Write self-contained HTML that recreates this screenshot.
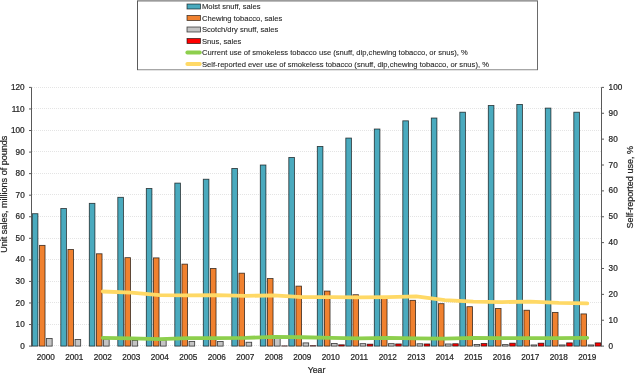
<!DOCTYPE html><html><head><meta charset="utf-8"><style>html,body{margin:0;padding:0;background:#fff;width:635px;height:374px;overflow:hidden}svg{display:block;will-change:transform}text{font-family:"Liberation Sans",sans-serif;fill:#262626;stroke:#262626;stroke-width:0.22px}</style></head><body>
<svg width="635" height="374" viewBox="0 0 635 374">
<line x1="32.00" y1="87.50" x2="601.50" y2="87.50" stroke="#E4E4E4" stroke-width="1" stroke-dasharray="1 1"/>
<line x1="32.00" y1="108.50" x2="601.50" y2="108.50" stroke="#E4E4E4" stroke-width="1" stroke-dasharray="1 1"/>
<line x1="32.00" y1="130.50" x2="601.50" y2="130.50" stroke="#E4E4E4" stroke-width="1" stroke-dasharray="1 1"/>
<line x1="32.00" y1="151.50" x2="601.50" y2="151.50" stroke="#E4E4E4" stroke-width="1" stroke-dasharray="1 1"/>
<line x1="32.00" y1="173.50" x2="601.50" y2="173.50" stroke="#E4E4E4" stroke-width="1" stroke-dasharray="1 1"/>
<line x1="32.00" y1="194.50" x2="601.50" y2="194.50" stroke="#E4E4E4" stroke-width="1" stroke-dasharray="1 1"/>
<line x1="32.00" y1="216.50" x2="601.50" y2="216.50" stroke="#E4E4E4" stroke-width="1" stroke-dasharray="1 1"/>
<line x1="32.00" y1="238.50" x2="601.50" y2="238.50" stroke="#E4E4E4" stroke-width="1" stroke-dasharray="1 1"/>
<line x1="32.00" y1="259.50" x2="601.50" y2="259.50" stroke="#E4E4E4" stroke-width="1" stroke-dasharray="1 1"/>
<line x1="32.00" y1="281.50" x2="601.50" y2="281.50" stroke="#E4E4E4" stroke-width="1" stroke-dasharray="1 1"/>
<line x1="32.00" y1="302.50" x2="601.50" y2="302.50" stroke="#E4E4E4" stroke-width="1" stroke-dasharray="1 1"/>
<line x1="32.00" y1="324.50" x2="601.50" y2="324.50" stroke="#E4E4E4" stroke-width="1" stroke-dasharray="1 1"/>
<line x1="32.00" y1="345.50" x2="601.50" y2="345.50" stroke="#E4E4E4" stroke-width="1" stroke-dasharray="1 1"/>
<rect x="32.30" y="213.70" width="5.62" height="132.40" fill="#4AAABE" stroke="rgba(0,0,0,0.72)" stroke-width="0.85"/>
<rect x="39.42" y="245.38" width="5.62" height="100.72" fill="#F0812F" stroke="rgba(0,0,0,0.72)" stroke-width="0.85"/>
<rect x="46.55" y="338.47" width="5.62" height="7.63" fill="#C4C4C4" stroke="rgba(0,0,0,0.72)" stroke-width="0.85"/>
<rect x="60.80" y="208.53" width="5.62" height="137.57" fill="#4AAABE" stroke="rgba(0,0,0,0.72)" stroke-width="0.85"/>
<rect x="67.92" y="249.47" width="5.62" height="96.63" fill="#F0812F" stroke="rgba(0,0,0,0.72)" stroke-width="0.85"/>
<rect x="75.05" y="339.44" width="5.62" height="6.66" fill="#C4C4C4" stroke="rgba(0,0,0,0.72)" stroke-width="0.85"/>
<rect x="89.30" y="203.35" width="5.62" height="142.75" fill="#4AAABE" stroke="rgba(0,0,0,0.72)" stroke-width="0.85"/>
<rect x="96.42" y="253.78" width="5.62" height="92.32" fill="#F0812F" stroke="rgba(0,0,0,0.72)" stroke-width="0.85"/>
<rect x="103.55" y="339.12" width="5.62" height="6.98" fill="#C4C4C4" stroke="rgba(0,0,0,0.72)" stroke-width="0.85"/>
<rect x="117.80" y="197.32" width="5.62" height="148.78" fill="#4AAABE" stroke="rgba(0,0,0,0.72)" stroke-width="0.85"/>
<rect x="124.92" y="257.66" width="5.62" height="88.44" fill="#F0812F" stroke="rgba(0,0,0,0.72)" stroke-width="0.85"/>
<rect x="132.05" y="340.41" width="5.62" height="5.69" fill="#C4C4C4" stroke="rgba(0,0,0,0.72)" stroke-width="0.85"/>
<rect x="146.30" y="188.48" width="5.62" height="157.62" fill="#4AAABE" stroke="rgba(0,0,0,0.72)" stroke-width="0.85"/>
<rect x="153.43" y="257.88" width="5.62" height="88.22" fill="#F0812F" stroke="rgba(0,0,0,0.72)" stroke-width="0.85"/>
<rect x="160.55" y="339.98" width="5.62" height="6.12" fill="#C4C4C4" stroke="rgba(0,0,0,0.72)" stroke-width="0.85"/>
<rect x="174.80" y="183.10" width="5.62" height="163.00" fill="#4AAABE" stroke="rgba(0,0,0,0.72)" stroke-width="0.85"/>
<rect x="181.93" y="264.13" width="5.62" height="81.97" fill="#F0812F" stroke="rgba(0,0,0,0.72)" stroke-width="0.85"/>
<rect x="189.05" y="341.38" width="5.62" height="4.72" fill="#C4C4C4" stroke="rgba(0,0,0,0.72)" stroke-width="0.85"/>
<rect x="203.30" y="179.22" width="5.62" height="166.88" fill="#4AAABE" stroke="rgba(0,0,0,0.72)" stroke-width="0.85"/>
<rect x="210.43" y="268.44" width="5.62" height="77.66" fill="#F0812F" stroke="rgba(0,0,0,0.72)" stroke-width="0.85"/>
<rect x="217.55" y="341.49" width="5.62" height="4.61" fill="#C4C4C4" stroke="rgba(0,0,0,0.72)" stroke-width="0.85"/>
<rect x="231.80" y="168.44" width="5.62" height="177.66" fill="#4AAABE" stroke="rgba(0,0,0,0.72)" stroke-width="0.85"/>
<rect x="238.93" y="273.18" width="5.62" height="72.92" fill="#F0812F" stroke="rgba(0,0,0,0.72)" stroke-width="0.85"/>
<rect x="246.05" y="342.24" width="5.62" height="3.86" fill="#C4C4C4" stroke="rgba(0,0,0,0.72)" stroke-width="0.85"/>
<rect x="260.30" y="165.00" width="5.62" height="181.10" fill="#4AAABE" stroke="rgba(0,0,0,0.72)" stroke-width="0.85"/>
<rect x="267.43" y="278.56" width="5.62" height="67.54" fill="#F0812F" stroke="rgba(0,0,0,0.72)" stroke-width="0.85"/>
<rect x="274.55" y="338.04" width="5.62" height="8.06" fill="#C4C4C4" stroke="rgba(0,0,0,0.72)" stroke-width="0.85"/>
<rect x="281.68" y="345.88" width="5.62" height="0.22" fill="#FF0000" stroke="rgba(0,0,0,0.72)" stroke-width="0.85"/>
<rect x="288.80" y="157.45" width="5.62" height="188.65" fill="#4AAABE" stroke="rgba(0,0,0,0.72)" stroke-width="0.85"/>
<rect x="295.93" y="286.11" width="5.62" height="59.99" fill="#F0812F" stroke="rgba(0,0,0,0.72)" stroke-width="0.85"/>
<rect x="303.05" y="342.89" width="5.62" height="3.21" fill="#C4C4C4" stroke="rgba(0,0,0,0.72)" stroke-width="0.85"/>
<rect x="310.18" y="345.67" width="5.62" height="0.43" fill="#FF0000" stroke="rgba(0,0,0,0.72)" stroke-width="0.85"/>
<rect x="317.30" y="146.46" width="5.62" height="199.64" fill="#4AAABE" stroke="rgba(0,0,0,0.72)" stroke-width="0.85"/>
<rect x="324.43" y="291.06" width="5.62" height="55.04" fill="#F0812F" stroke="rgba(0,0,0,0.72)" stroke-width="0.85"/>
<rect x="331.55" y="343.43" width="5.62" height="2.67" fill="#C4C4C4" stroke="rgba(0,0,0,0.72)" stroke-width="0.85"/>
<rect x="338.68" y="344.81" width="5.62" height="1.29" fill="#FF0000" stroke="rgba(0,0,0,0.72)" stroke-width="0.85"/>
<rect x="345.80" y="138.06" width="5.62" height="208.04" fill="#4AAABE" stroke="rgba(0,0,0,0.72)" stroke-width="0.85"/>
<rect x="352.93" y="294.73" width="5.62" height="51.37" fill="#F0812F" stroke="rgba(0,0,0,0.72)" stroke-width="0.85"/>
<rect x="360.05" y="343.65" width="5.62" height="2.45" fill="#C4C4C4" stroke="rgba(0,0,0,0.72)" stroke-width="0.85"/>
<rect x="367.18" y="344.16" width="5.62" height="1.94" fill="#FF0000" stroke="rgba(0,0,0,0.72)" stroke-width="0.85"/>
<rect x="374.30" y="129.01" width="5.62" height="217.09" fill="#4AAABE" stroke="rgba(0,0,0,0.72)" stroke-width="0.85"/>
<rect x="381.43" y="297.74" width="5.62" height="48.36" fill="#F0812F" stroke="rgba(0,0,0,0.72)" stroke-width="0.85"/>
<rect x="388.55" y="343.65" width="5.62" height="2.45" fill="#C4C4C4" stroke="rgba(0,0,0,0.72)" stroke-width="0.85"/>
<rect x="395.68" y="343.94" width="5.62" height="2.16" fill="#FF0000" stroke="rgba(0,0,0,0.72)" stroke-width="0.85"/>
<rect x="402.80" y="120.82" width="5.62" height="225.28" fill="#4AAABE" stroke="rgba(0,0,0,0.72)" stroke-width="0.85"/>
<rect x="409.93" y="300.33" width="5.62" height="45.77" fill="#F0812F" stroke="rgba(0,0,0,0.72)" stroke-width="0.85"/>
<rect x="417.05" y="343.75" width="5.62" height="2.35" fill="#C4C4C4" stroke="rgba(0,0,0,0.72)" stroke-width="0.85"/>
<rect x="424.18" y="343.94" width="5.62" height="2.16" fill="#FF0000" stroke="rgba(0,0,0,0.72)" stroke-width="0.85"/>
<rect x="431.30" y="118.02" width="5.62" height="228.08" fill="#4AAABE" stroke="rgba(0,0,0,0.72)" stroke-width="0.85"/>
<rect x="438.43" y="303.67" width="5.62" height="42.43" fill="#F0812F" stroke="rgba(0,0,0,0.72)" stroke-width="0.85"/>
<rect x="445.55" y="343.97" width="5.62" height="2.13" fill="#C4C4C4" stroke="rgba(0,0,0,0.72)" stroke-width="0.85"/>
<rect x="452.68" y="343.73" width="5.62" height="2.37" fill="#FF0000" stroke="rgba(0,0,0,0.72)" stroke-width="0.85"/>
<rect x="459.80" y="112.20" width="5.62" height="233.90" fill="#4AAABE" stroke="rgba(0,0,0,0.72)" stroke-width="0.85"/>
<rect x="466.93" y="306.69" width="5.62" height="39.41" fill="#F0812F" stroke="rgba(0,0,0,0.72)" stroke-width="0.85"/>
<rect x="474.05" y="344.51" width="5.62" height="1.59" fill="#C4C4C4" stroke="rgba(0,0,0,0.72)" stroke-width="0.85"/>
<rect x="481.18" y="343.51" width="5.62" height="2.59" fill="#FF0000" stroke="rgba(0,0,0,0.72)" stroke-width="0.85"/>
<rect x="488.30" y="105.52" width="5.62" height="240.58" fill="#4AAABE" stroke="rgba(0,0,0,0.72)" stroke-width="0.85"/>
<rect x="495.43" y="308.52" width="5.62" height="37.58" fill="#F0812F" stroke="rgba(0,0,0,0.72)" stroke-width="0.85"/>
<rect x="502.55" y="344.61" width="5.62" height="1.49" fill="#C4C4C4" stroke="rgba(0,0,0,0.72)" stroke-width="0.85"/>
<rect x="509.68" y="343.19" width="5.62" height="2.91" fill="#FF0000" stroke="rgba(0,0,0,0.72)" stroke-width="0.85"/>
<rect x="516.80" y="104.44" width="5.62" height="241.66" fill="#4AAABE" stroke="rgba(0,0,0,0.72)" stroke-width="0.85"/>
<rect x="523.92" y="310.24" width="5.62" height="35.86" fill="#F0812F" stroke="rgba(0,0,0,0.72)" stroke-width="0.85"/>
<rect x="531.05" y="344.94" width="5.62" height="1.16" fill="#C4C4C4" stroke="rgba(0,0,0,0.72)" stroke-width="0.85"/>
<rect x="538.17" y="343.19" width="5.62" height="2.91" fill="#FF0000" stroke="rgba(0,0,0,0.72)" stroke-width="0.85"/>
<rect x="545.30" y="108.10" width="5.62" height="238.00" fill="#4AAABE" stroke="rgba(0,0,0,0.72)" stroke-width="0.85"/>
<rect x="552.42" y="312.40" width="5.62" height="33.70" fill="#F0812F" stroke="rgba(0,0,0,0.72)" stroke-width="0.85"/>
<rect x="559.55" y="344.94" width="5.62" height="1.16" fill="#C4C4C4" stroke="rgba(0,0,0,0.72)" stroke-width="0.85"/>
<rect x="566.67" y="342.87" width="5.62" height="3.23" fill="#FF0000" stroke="rgba(0,0,0,0.72)" stroke-width="0.85"/>
<rect x="573.80" y="112.20" width="5.62" height="233.90" fill="#4AAABE" stroke="rgba(0,0,0,0.72)" stroke-width="0.85"/>
<rect x="580.92" y="313.91" width="5.62" height="32.19" fill="#F0812F" stroke="rgba(0,0,0,0.72)" stroke-width="0.85"/>
<rect x="588.05" y="344.94" width="5.62" height="1.16" fill="#C4C4C4" stroke="rgba(0,0,0,0.72)" stroke-width="0.85"/>
<rect x="595.17" y="342.87" width="5.62" height="3.23" fill="#FF0000" stroke="rgba(0,0,0,0.72)" stroke-width="0.85"/>
<polyline points="102.75,337.78 131.25,338.30 159.75,339.08 188.25,338.17 216.75,338.04 245.25,337.91 273.75,336.88 302.25,337.27 330.75,337.78 359.25,338.30 387.75,337.78 416.25,338.30 444.75,338.56 473.25,337.78 501.75,338.04 530.25,338.04 558.75,338.04 587.25,337.78" fill="none" stroke="#8DCF4D" stroke-width="3.8" stroke-linejoin="round" stroke-linecap="round"/>
<polyline points="102.75,291.49 131.25,292.53 159.75,295.11 188.25,295.37 216.75,295.11 245.25,295.89 273.75,295.37 302.25,297.18 330.75,297.18 359.25,297.44 387.75,297.18 416.25,296.41 444.75,300.03 473.25,301.58 501.75,302.10 530.25,301.58 558.75,302.87 587.25,303.39" fill="none" stroke="#FFD966" stroke-width="3.8" stroke-linejoin="round" stroke-linecap="round"/>
<line x1="31.50" y1="87.40" x2="31.50" y2="346.60" stroke="#595959" stroke-width="1"/>
<line x1="601.50" y1="87.40" x2="601.50" y2="346.60" stroke="#595959" stroke-width="1"/>
<line x1="29.00" y1="87.40" x2="31.50" y2="87.40" stroke="#595959" stroke-width="1"/>
<text x="24.70" y="90.00" font-size="8.2" text-anchor="end">120</text>
<line x1="29.00" y1="108.96" x2="31.50" y2="108.96" stroke="#595959" stroke-width="1"/>
<text x="24.70" y="111.56" font-size="8.2" text-anchor="end">110</text>
<line x1="29.00" y1="130.52" x2="31.50" y2="130.52" stroke="#595959" stroke-width="1"/>
<text x="24.70" y="133.12" font-size="8.2" text-anchor="end">100</text>
<line x1="29.00" y1="152.08" x2="31.50" y2="152.08" stroke="#595959" stroke-width="1"/>
<text x="24.70" y="154.68" font-size="8.2" text-anchor="end">90</text>
<line x1="29.00" y1="173.63" x2="31.50" y2="173.63" stroke="#595959" stroke-width="1"/>
<text x="24.70" y="176.23" font-size="8.2" text-anchor="end">80</text>
<line x1="29.00" y1="195.19" x2="31.50" y2="195.19" stroke="#595959" stroke-width="1"/>
<text x="24.70" y="197.79" font-size="8.2" text-anchor="end">70</text>
<line x1="29.00" y1="216.75" x2="31.50" y2="216.75" stroke="#595959" stroke-width="1"/>
<text x="24.70" y="219.35" font-size="8.2" text-anchor="end">60</text>
<line x1="29.00" y1="238.31" x2="31.50" y2="238.31" stroke="#595959" stroke-width="1"/>
<text x="24.70" y="240.91" font-size="8.2" text-anchor="end">50</text>
<line x1="29.00" y1="259.87" x2="31.50" y2="259.87" stroke="#595959" stroke-width="1"/>
<text x="24.70" y="262.47" font-size="8.2" text-anchor="end">40</text>
<line x1="29.00" y1="281.43" x2="31.50" y2="281.43" stroke="#595959" stroke-width="1"/>
<text x="24.70" y="284.03" font-size="8.2" text-anchor="end">30</text>
<line x1="29.00" y1="302.98" x2="31.50" y2="302.98" stroke="#595959" stroke-width="1"/>
<text x="24.70" y="305.58" font-size="8.2" text-anchor="end">20</text>
<line x1="29.00" y1="324.54" x2="31.50" y2="324.54" stroke="#595959" stroke-width="1"/>
<text x="24.70" y="327.14" font-size="8.2" text-anchor="end">10</text>
<line x1="29.00" y1="346.10" x2="31.50" y2="346.10" stroke="#595959" stroke-width="1"/>
<text x="24.70" y="348.70" font-size="8.2" text-anchor="end">0</text>
<line x1="601.50" y1="87.40" x2="604.00" y2="87.40" stroke="#595959" stroke-width="1"/>
<text x="608.60" y="90.00" font-size="8.2" text-anchor="start">100</text>
<line x1="601.50" y1="113.27" x2="604.00" y2="113.27" stroke="#595959" stroke-width="1"/>
<text x="608.60" y="115.87" font-size="8.2" text-anchor="start">90</text>
<line x1="601.50" y1="139.14" x2="604.00" y2="139.14" stroke="#595959" stroke-width="1"/>
<text x="608.60" y="141.74" font-size="8.2" text-anchor="start">80</text>
<line x1="601.50" y1="165.01" x2="604.00" y2="165.01" stroke="#595959" stroke-width="1"/>
<text x="608.60" y="167.61" font-size="8.2" text-anchor="start">70</text>
<line x1="601.50" y1="190.88" x2="604.00" y2="190.88" stroke="#595959" stroke-width="1"/>
<text x="608.60" y="193.48" font-size="8.2" text-anchor="start">60</text>
<line x1="601.50" y1="216.75" x2="604.00" y2="216.75" stroke="#595959" stroke-width="1"/>
<text x="608.60" y="219.35" font-size="8.2" text-anchor="start">50</text>
<line x1="601.50" y1="242.62" x2="604.00" y2="242.62" stroke="#595959" stroke-width="1"/>
<text x="608.60" y="245.22" font-size="8.2" text-anchor="start">40</text>
<line x1="601.50" y1="268.49" x2="604.00" y2="268.49" stroke="#595959" stroke-width="1"/>
<text x="608.60" y="271.09" font-size="8.2" text-anchor="start">30</text>
<line x1="601.50" y1="294.36" x2="604.00" y2="294.36" stroke="#595959" stroke-width="1"/>
<text x="608.60" y="296.96" font-size="8.2" text-anchor="start">20</text>
<line x1="601.50" y1="320.23" x2="604.00" y2="320.23" stroke="#595959" stroke-width="1"/>
<text x="608.60" y="322.83" font-size="8.2" text-anchor="start">10</text>
<line x1="601.50" y1="346.10" x2="604.00" y2="346.10" stroke="#595959" stroke-width="1"/>
<text x="608.60" y="348.70" font-size="8.2" text-anchor="start">0</text>
<text x="45.75" y="360.30" font-size="8.2" text-anchor="middle">2000</text>
<text x="74.25" y="360.30" font-size="8.2" text-anchor="middle">2001</text>
<text x="102.75" y="360.30" font-size="8.2" text-anchor="middle">2002</text>
<text x="131.25" y="360.30" font-size="8.2" text-anchor="middle">2003</text>
<text x="159.75" y="360.30" font-size="8.2" text-anchor="middle">2004</text>
<text x="188.25" y="360.30" font-size="8.2" text-anchor="middle">2005</text>
<text x="216.75" y="360.30" font-size="8.2" text-anchor="middle">2006</text>
<text x="245.25" y="360.30" font-size="8.2" text-anchor="middle">2007</text>
<text x="273.75" y="360.30" font-size="8.2" text-anchor="middle">2008</text>
<text x="302.25" y="360.30" font-size="8.2" text-anchor="middle">2009</text>
<text x="330.75" y="360.30" font-size="8.2" text-anchor="middle">2010</text>
<text x="359.25" y="360.30" font-size="8.2" text-anchor="middle">2011</text>
<text x="387.75" y="360.30" font-size="8.2" text-anchor="middle">2012</text>
<text x="416.25" y="360.30" font-size="8.2" text-anchor="middle">2013</text>
<text x="444.75" y="360.30" font-size="8.2" text-anchor="middle">2014</text>
<text x="473.25" y="360.30" font-size="8.2" text-anchor="middle">2015</text>
<text x="501.75" y="360.30" font-size="8.2" text-anchor="middle">2016</text>
<text x="530.25" y="360.30" font-size="8.2" text-anchor="middle">2017</text>
<text x="558.75" y="360.30" font-size="8.2" text-anchor="middle">2018</text>
<text x="587.25" y="360.30" font-size="8.2" text-anchor="middle">2019</text>
<text x="316.5" y="372.8" font-size="8.7" text-anchor="middle">Year</text>
<text transform="translate(6.9,194.2) rotate(-90)" font-size="9.05" text-anchor="middle">Unit sales, millions of pounds</text>
<text transform="translate(632.9,187.2) rotate(-90)" font-size="9.05" text-anchor="middle">Self-reported use, %</text>
<rect x="137.5" y="0.5" width="400" height="69.2" fill="#fff" stroke="none"/>
<line x1="137.5" y1="0.8" x2="537.5" y2="0.8" stroke="#7a7a7a" stroke-width="1.3"/>
<line x1="137" y1="69.7" x2="538" y2="69.7" stroke="#8a8a8a" stroke-width="1.1"/>
<line x1="137.5" y1="0.5" x2="137.5" y2="70" stroke="#5a5a5a" stroke-width="1"/>
<line x1="537.5" y1="0.5" x2="537.5" y2="70" stroke="#6a6a6a" stroke-width="1"/>
<rect x="187" y="4.00" width="13.5" height="5" fill="#4AAABE" stroke="rgba(0,0,0,0.72)" stroke-width="0.8"/>
<text x="202" y="9.10" font-size="7.6" style="stroke-width:0.1px">Moist snuff, sales</text>
<rect x="187" y="15.50" width="13.5" height="5" fill="#F0812F" stroke="rgba(0,0,0,0.72)" stroke-width="0.8"/>
<text x="202" y="20.60" font-size="7.6" style="stroke-width:0.1px">Chewing tobacco, sales</text>
<rect x="187" y="27.00" width="13.5" height="5" fill="#C4C4C4" stroke="rgba(0,0,0,0.72)" stroke-width="0.8"/>
<text x="202" y="32.10" font-size="7.6" style="stroke-width:0.1px">Scotch/dry snuff, sales</text>
<rect x="187" y="38.50" width="13.5" height="5" fill="#FF0000" stroke="rgba(0,0,0,0.72)" stroke-width="0.8"/>
<text x="202" y="43.60" font-size="7.6" style="stroke-width:0.1px">Snus, sales</text>
<line x1="187.3" y1="52.50" x2="199.8" y2="52.50" stroke="#8DCF4D" stroke-width="3.8" stroke-linecap="round"/>
<text x="202" y="55.10" font-size="7.6" style="stroke-width:0.1px">Current use of smokeless tobacco use (snuff, dip,chewing tobacco, or snus), %</text>
<line x1="187.3" y1="64.00" x2="199.8" y2="64.00" stroke="#FFD966" stroke-width="3.8" stroke-linecap="round"/>
<text x="202" y="66.60" font-size="7.6" style="stroke-width:0.1px">Self-reported ever use of smokeless tobacco (snuff, dip,chewing tobacco, or snus), %</text>
</svg></body></html>
